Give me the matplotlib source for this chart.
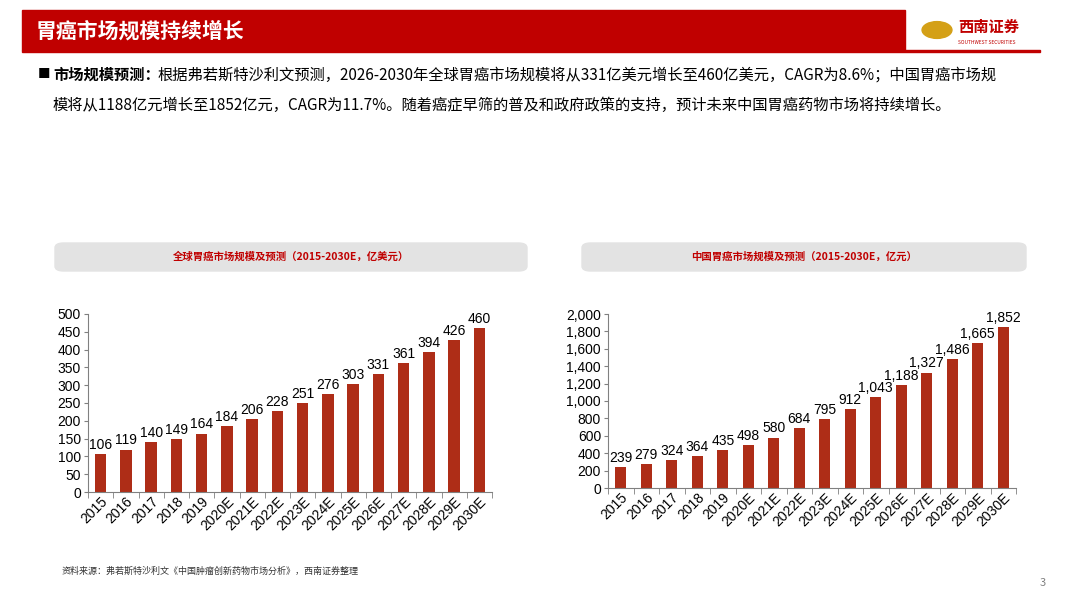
import matplotlib
matplotlib.use("Agg")
import matplotlib.pyplot as plt
from matplotlib.patches import FancyBboxPatch, Rectangle
from matplotlib.ticker import FuncFormatter

plt.rcParams['font.family'] = ['Noto Sans CJK SC', 'DejaVu Sans']

years = ["2015", "2016", "2017", "2018", "2019", "2020E", "2021E", "2022E", "2023E",
         "2024E", "2025E", "2026E", "2027E", "2028E", "2029E", "2030E"]
global_vals = [106, 119, 140, 149, 164, 184, 206, 228, 251, 276, 303, 331, 361, 394, 426, 460]
china_vals = [239, 279, 324, 364, 435, 498, 580, 684, 795, 912, 1043, 1188, 1327, 1486, 1665, 1852]

RED = "#C00000"
BAR = "#AE2D17"

fig = plt.figure(figsize=(10.67, 6.0), dpi=100)
W, H = 1067, 600

def fx(x): return x / W
def fy(y): return 1 - y / H

# header
fig.patches.append(Rectangle((fx(22), fy(50)), fx(905) - fx(22), 40 / H, transform=fig.transFigure,
                             color=RED, zorder=0))
fig.patches.append(Rectangle((fx(22), fy(52)), fx(1040) - fx(22), 2 / H, transform=fig.transFigure,
                             color=RED, zorder=0))
fig.text(fx(36), fy(31), "胃癌市场规模持续增长", color="white", fontsize=15, fontweight="bold", va="center")
fig.text(fx(958), fy(27), "西南证券", color=RED, fontsize=11, fontweight="bold", va="center")
fig.text(fx(958), fy(42), "SOUTHWEST SECURITIES", color=RED, fontsize=3.5, va="center")
fig.patches.append(matplotlib.patches.Circle((fx(937), fy(30)), 0.014, transform=fig.transFigure,
                                             color="#D4A017", zorder=1))

fig.text(fx(38), fy(75), "■", fontsize=9, va="center")
fig.text(fx(53), fy(75), "市场规模预测：", fontsize=11, fontweight="bold", va="center")
fig.text(fx(157), fy(75), "根据弗若斯特沙利文预测，2026-2030年全球胃癌市场规模将从331亿美元增长至460亿美元，CAGR为8.6%；中国胃癌市场规",
         fontsize=11, va="center")
fig.text(fx(53), fy(105), "模将从1188亿元增长至1852亿元，CAGR为11.7%。随着癌症早筛的普及和政府政策的支持，预计未来中国胃癌药物市场将持续增长。",
         fontsize=11, va="center")

# title boxes
for x0, x1, t in [(55, 527, "全球胃癌市场规模及预测（2015-2030E，亿美元）"),
                  (582, 1026, "中国胃癌市场规模及预测（2015-2030E，亿元）")]:
    fig.patches.append(FancyBboxPatch((fx(x0), fy(271)), fx(x1) - fx(x0), 28 / H,
                                      boxstyle="round,pad=0,rounding_size=0.008",
                                      transform=fig.transFigure, color="#E3E3E3", zorder=0))
    fig.text(fx((x0 + x1) / 2), fy(257), t, color=RED, fontsize=7.5, fontweight="bold",
             ha="center", va="center")

def draw(ax, vals, ymax, step, fmt):
    x = range(len(vals))
    ax.bar(x, vals, width=0.45, color=BAR)
    for i, v in zip(x, vals):
        ax.text(i, v + ymax * 0.012, fmt(v), ha="center", va="bottom", fontsize=10,
                family="Liberation Sans")
    ax.set_ylim(0, ymax)
    ax.set_xlim(-0.5, len(vals) - 0.5)
    ax.set_yticks(range(0, ymax + 1, step))
    ax.yaxis.set_major_formatter(FuncFormatter(lambda v, p: fmt(v)))
    ax.set_xticks(list(x))
    ax.set_xticklabels(years, rotation=45, ha="right", rotation_mode="anchor", fontsize=10,
                       family="Liberation Sans")
    for lab in ax.get_yticklabels():
        lab.set_fontsize(10)
        lab.set_family("Liberation Sans")
    for s in ["top", "right"]:
        ax.spines[s].set_visible(False)
    ax.spines["left"].set_color("#808080")
    ax.spines["bottom"].set_color("#808080")
    ax.tick_params(axis="y", length=3, color="#808080", pad=2)
    ax.tick_params(axis="x", length=3, color="#808080", pad=2)
    ax.set_xticks([i + 0.5 for i in range(-1, len(vals))], minor=True)
    ax.tick_params(axis="x", which="major", length=0)
    ax.tick_params(axis="x", which="minor", length=4, color="#808080")

ax1 = fig.add_axes([fx(88), fy(492), fx(492) - fx(88), (492 - 314) / H])
draw(ax1, global_vals, 500, 50, lambda v: f"{int(v)}")
ax2 = fig.add_axes([fx(608), fy(488), fx(1016) - fx(608), (488 - 314) / H])
draw(ax2, china_vals, 2000, 200, lambda v: f"{int(v):,}")

fig.text(fx(62), fy(571), "资料来源：弗若斯特沙利文《中国肿瘤创新药物市场分析》，西南证券整理",
         fontsize=6.5, style="italic", va="center", color="#333333")
fig.text(fx(1040), fy(583), "3", fontsize=8, color="#808080", va="center")

fig.savefig("out.png", dpi=100)
